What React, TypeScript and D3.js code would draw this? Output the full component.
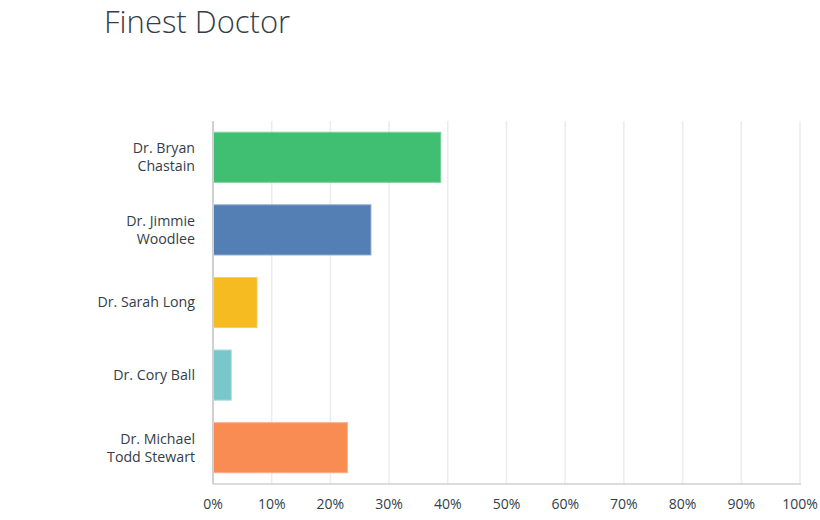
import React from "react";
import * as d3 from "d3";

const categories: string[][] = [
  ["Dr. Bryan", "Chastain"],
  ["Dr. Jimmie", "Woodlee"],
  ["Dr. Sarah Long"],
  ["Dr. Cory Ball"],
  ["Dr. Michael", "Todd Stewart"],
];
const values: number[] = [0.388, 0.269, 0.075, 0.031, 0.229];
const colors: string[] = ["#40be72", "#537fb5", "#f6bb21", "#78c8cb", "#f98c53"];
const ticks: number[] = [0, 0.1, 0.2, 0.3, 0.4, 0.5, 0.6, 0.7, 0.8, 0.9, 1.0];
const title = "Finest Doctor";

export default function App() {
  const W = 820, H = 520;
  const left = 213, right = 800, top = 121, bottom = 484;
  const x = d3.scaleLinear().domain([0, 1]).range([left, right]);
  const y = d3
    .scaleBand<number>()
    .domain(d3.range(categories.length))
    .range([top, bottom])
    .paddingInner(0.31)
    .paddingOuter(0.155);
  const font = "'Open Sans', 'Noto Sans', sans-serif";
  const textColor = "#333e48";
  const lighten = (c: string) => d3.interpolateRgb(c, "#ffffff")(0.3);

  return (
    <svg
      width={W}
      height={H}
      style={{ position: "absolute", left: 0, top: 0, background: "#fff" }}
    >
      <text x={104} y={33} fontFamily={font} fontWeight={300} fontSize={31} fill={textColor}>
        {title}
      </text>
      {ticks.slice(1).map((t, i) => (
        <line key={i} x1={x(t)} x2={x(t)} y1={top} y2={bottom} stroke="#ececec" strokeWidth={1.5} />
      ))}
      {values.map((v, i) => (
        <rect
          key={i}
          x={x(0)}
          y={y(i)!}
          width={x(v) - x(0)}
          height={y.bandwidth()}
          fill={colors[i]}
          stroke={lighten(colors[i])}
          strokeWidth={1}
        />
      ))}
      <line x1={left} x2={left} y1={top} y2={bottom} stroke="#d0d0d0" strokeWidth={2} />
      <line x1={left} x2={right + 1} y1={bottom} y2={bottom} stroke="#d0d0d0" strokeWidth={1.5} />
      {categories.map((lines, i) => {
        const cy = y(i)! + y.bandwidth() / 2;
        const lh = 18;
        const start = cy - ((lines.length - 1) * lh) / 2;
        return (
          <text key={i} textAnchor="end" fontFamily={font} fontSize={14.2} fill={textColor}>
            {lines.map((l, j) => (
              <tspan key={j} x={195} y={start + j * lh} dy="0.35em">
                {l}
              </tspan>
            ))}
          </text>
        );
      })}
      {ticks.map((t, i) => (
        <text
          key={i}
          x={x(t)}
          y={504}
          dy="0.35em"
          textAnchor="middle"
          fontFamily={font}
          fontSize={14}
          fill={textColor}
        >
          {d3.format(".0%")(t)}
        </text>
      ))}
    </svg>
  );
}
